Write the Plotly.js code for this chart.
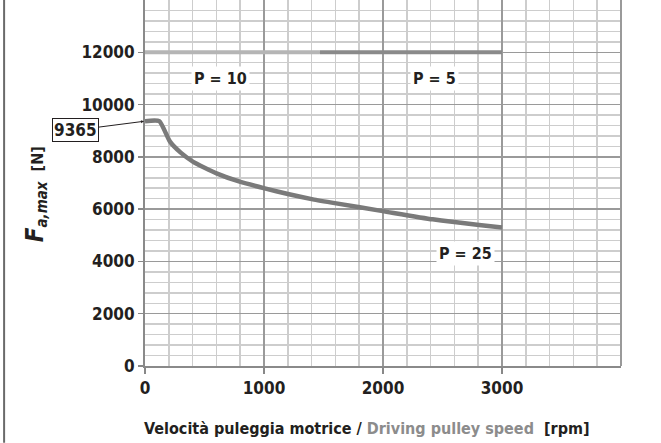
<!DOCTYPE html>
<html>
<head>
<meta charset="utf-8">
<script src="https://cdn.plot.ly/plotly-3.0.1.min.js"></script>
<style>
  html, body { margin: 0; padding: 0; background: #ffffff; }
  #chart { width: 661px; height: 443px; }
</style>
</head>
<body>
<div id="chart"></div>
<script>
// Maximum axial load vs driving pulley speed
const speedP25 = [0, 120, 210, 300, 405, 601, 796, 1006, 1201, 1411, 1607, 1998, 2417, 2808, 3000];
const forceP25 = [9365, 9365, 8580, 8160, 7810, 7370, 7050, 6795, 6580, 6375, 6220, 5925, 5610, 5390, 5300];

const speedP10 = [0, 1470];
const forceP10 = [12000, 12000];

const speedP5 = [1470, 3000];
const forceP5 = [12000, 12000];

const xTicks = [0, 1000, 2000, 3000];
const yTicks = [0, 2000, 4000, 6000, 8000, 10000, 12000];

const peakLabel = { x: 0, y: 9365, text: '9365' };
const seriesLabels = [
  { x: 637, y: 11000, text: 'P = 10' },
  { x: 2431, y: 11000, text: 'P = 5' },
  { x: 2695, y: 4320, text: 'P = 25' }
];

const FONT = '"DejaVu Sans Condensed", "Liberation Sans Narrow", sans-serif';
const INK = '#231f20';

const traces = [
  { x: speedP10, y: forceP10, mode: 'lines', line: { color: '#b5b5b5', width: 4 }, hoverinfo: 'skip' },
  { x: speedP5, y: forceP5, mode: 'lines', line: { color: '#8a8a8a', width: 4 }, hoverinfo: 'skip' },
  { x: speedP25, y: forceP25, mode: 'lines',
    line: { color: '#7a7a7a', width: 4.5, shape: 'spline', smoothing: 0.5 }, hoverinfo: 'skip' }
];

const annotations = seriesLabels.map(l => ({
  x: l.x, y: l.y, xref: 'x', yref: 'y', text: '<b>' + l.text + '</b>',
  showarrow: false, bgcolor: '#ffffff', borderpad: 2,
  font: { family: FONT, size: 16, color: INK }
}));

annotations.push({
  x: peakLabel.x, y: peakLabel.y, xref: 'x', yref: 'y',
  text: '<b>' + peakLabel.text + '</b>',
  showarrow: true, arrowhead: 2, arrowsize: 0.6, arrowwidth: 1, arrowcolor: INK,
  ax: -70, ay: 9, standoff: 1,
  bgcolor: '#ffffff', bordercolor: INK, borderwidth: 1, borderpad: 1,
  font: { family: FONT, size: 17, color: INK }
});

annotations.push({
  x: -0.263, y: 0.47, xref: 'paper', yref: 'paper', textangle: -90,
  text: '<b><i><span style="font-size:24px">F</span><sub><span style="font-size:15px">a,max</span></sub></i>  [N]</b>',
  showarrow: false, font: { family: FONT, size: 16, color: INK }
});

annotations.push({
  x: 0.467, y: -0.172, xref: 'paper', yref: 'paper', yanchor: 'middle',
  text: '<b>Velocità puleggia motrice / <span style="color:#8c8c8c">Driving pulley speed</span>  [rpm]</b>',
  showarrow: false, font: { family: FONT, size: 16, color: INK }
});

const layout = {
  width: 661, height: 443,
  margin: { l: 145, r: 39.5, t: 0, b: 77 },
  paper_bgcolor: '#ffffff', plot_bgcolor: '#ffffff',
  showlegend: false,
  xaxis: {
    range: [0, 4000], tickvals: xTicks, ticktext: xTicks.map(String),
    ticks: 'outside', ticklen: 6, tickwidth: 1.5, tickcolor: '#888888',
    showline: true, linecolor: '#8a8a8a', linewidth: 2, mirror: false,
    showgrid: true, gridcolor: '#9a9a9a', gridwidth: 1.5,
    minor: { dtick: 200, showgrid: true, gridcolor: '#cdcdcd', gridwidth: 1.5 },
    zeroline: false, fixedrange: true,
    tickfont: { family: FONT, size: 17, color: INK, weight: 'bold' }
  },
  yaxis: {
    range: [0, 14000], tickvals: yTicks, ticktext: yTicks.map(String),
    ticks: 'outside', ticklen: 5, tickwidth: 1.5, tickcolor: '#888888',
    showline: true, linecolor: '#8a8a8a', linewidth: 2,
    showgrid: true, gridcolor: '#9a9a9a', gridwidth: 1.5,
    minor: { dtick: 400, showgrid: true, gridcolor: '#cdcdcd', gridwidth: 1.5 },
    zeroline: false, fixedrange: true,
    tickfont: { family: FONT, size: 17, color: INK, weight: 'bold' }
  },
  shapes: [
    // right border of the grid
    { type: 'line', xref: 'paper', yref: 'paper', x0: 1, x1: 1, y0: 0, y1: 1,
      line: { color: '#9a9a9a', width: 2 } },
    // frame line at the left edge
    { type: 'line', xref: 'paper', yref: 'paper', x0: -0.296, x1: -0.296, y0: -0.21, y1: 1,
      line: { color: '#6a6a6a', width: 2 } }
  ],
  annotations: annotations
};

Plotly.newPlot('chart', traces, layout, { displayModeBar: false, staticPlot: true });
</script>
</body>
</html>
